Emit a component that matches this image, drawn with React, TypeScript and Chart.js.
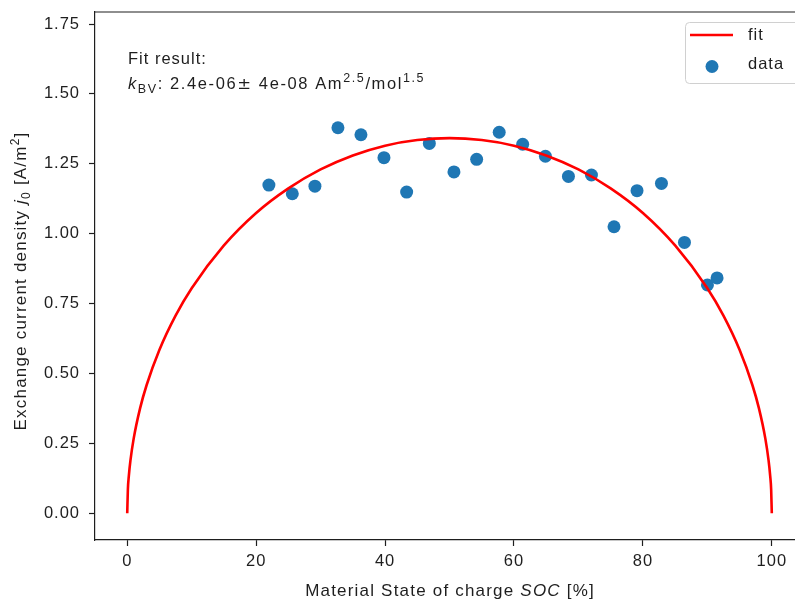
import { useEffect, useRef } from "react";
import { Chart, registerables } from "chart.js";

Chart.register(...registerables);

// measured data points
const socData = [21.98, 25.61, 29.12, 32.69, 36.26, 39.83, 43.35, 46.87, 50.69, 54.21, 57.71, 61.35, 64.88, 68.45, 72.02, 75.52, 79.09, 82.88, 86.45, 90.02, 91.51];
const j0Data = [1.174, 1.143, 1.170, 1.379, 1.354, 1.272, 1.149, 1.323, 1.221, 1.266, 1.363, 1.320, 1.277, 1.205, 1.210, 1.025, 1.154, 1.180, 0.969, 0.817, 0.842];

// fit curve
const fitSoc = [0, 0.1, 0.25, 0.5, 1, 2, 3, 5, 7.5, 10, 15, 20, 25, 30, 35, 40, 45, 50, 55, 60, 65, 70, 75, 80, 85, 90, 92.5, 95, 97, 98, 99, 99.5, 99.75, 99.9, 100];
const fitJ0 = [0, 0.085, 0.134, 0.189, 0.267, 0.376, 0.458, 0.585, 0.707, 0.805, 0.958, 1.074, 1.162, 1.230, 1.280, 1.315, 1.335, 1.342, 1.335, 1.315, 1.280, 1.230, 1.162, 1.074, 0.958, 0.805, 0.707, 0.585, 0.458, 0.376, 0.267, 0.189, 0.134, 0.085, 0];

const xTicks = [0, 20, 40, 60, 80, 100];
const yTicks = [0, 0.25, 0.5, 0.75, 1.0, 1.25, 1.5, 1.75];
const yTickLabels = ["0.00", "0.25", "0.50", "0.75", "1.00", "1.25", "1.50", "1.75"];

const legendLabels = ["fit", "data"];
const fitTitle = "Fit result:";

const FONT = "'Liberation Sans', Arial, Helvetica, sans-serif";
const FS = 16.5;
const TFS = 17;
const SMALL = 12;
const LS = "1px";
const TXT = "#1e1e1e";
const AREA_RIGHT = 795;

type Seg = { t: string; italic?: boolean; size?: number; dy?: number; family?: string };

function segFont(s: Seg, base: number) {
  return `${s.italic ? "italic " : ""}${s.size ?? base}px ${s.family ?? FONT}`;
}

function measureSegs(ctx: CanvasRenderingContext2D, segs: Seg[], base: number) {
  let w = 0;
  for (const s of segs) {
    ctx.font = segFont(s, base);
    w += ctx.measureText(s.t).width;
  }
  return w;
}

function drawSegs(ctx: CanvasRenderingContext2D, segs: Seg[], x: number, y: number, base: number) {
  let cx = x;
  for (const s of segs) {
    ctx.font = segFont(s, base);
    ctx.fillText(s.t, cx, y + (s.dy ?? 0));
    cx += ctx.measureText(s.t).width;
  }
}

const zeroPad = (s: any) => {
  s.paddingLeft = 0;
  s.paddingRight = 0;
  s.paddingTop = 0;
  s.paddingBottom = 0;
};

const decorPlugin = {
  id: "decor",
  beforeUpdate(chart: any) {
    (chart.ctx as any).letterSpacing = LS;
  },
  afterLayout(chart: any) {
    const xs = chart.scales.x;
    xs.right = AREA_RIGHT;
    xs.width = xs.right - xs.left;
    xs.configure();
    const a = chart.chartArea;
    a.right = AREA_RIGHT;
    a.width = a.right - a.left;
  },
  beforeDraw(chart: any) {
    (chart.ctx as any).letterSpacing = LS;
  },
  afterDraw(chart: any) {
    const ctx: CanvasRenderingContext2D = chart.ctx;
    const a = chart.chartArea;
    ctx.save();
    (ctx as any).letterSpacing = LS;
    // top spine
    ctx.strokeStyle = TXT;
    ctx.lineWidth = 1.2;
    ctx.beginPath();
    ctx.moveTo(a.left - 0.6, a.top);
    ctx.lineTo(a.right, a.top);
    ctx.stroke();

    ctx.fillStyle = TXT;
    ctx.textBaseline = "alphabetic";
    ctx.textAlign = "left";

    // annotation
    drawSegs(ctx, [{ t: fitTitle }], 128, 64, FS);
    (ctx as any).letterSpacing = "1.6px";
    drawSegs(
      ctx,
      [
        { t: "k", italic: true },
        { t: "BV", size: 12.5, dy: 4 },
        { t: ": 2.4e-06" },
        { t: "\u00b1", family: "'DejaVu Sans', sans-serif" },
        { t: " 4e-08 Am" },
        { t: "2.5", size: 12.5, dy: -7 },
        { t: "/mol" },
        { t: "1.5", size: 12.5, dy: -7 },
      ],
      128,
      89,
      FS
    );

    (ctx as any).letterSpacing = "1.2px";
    // x label
    const xl: Seg[] = [{ t: "Material State of charge " }, { t: "SOC", italic: true }, { t: " [%]" }];
    const xw = measureSegs(ctx, xl, TFS);
    drawSegs(ctx, xl, 450 - xw / 2, 596, TFS);

    // y label
    const yl: Seg[] = [
      { t: "Exchange current density " },
      { t: "j", italic: true },
      { t: "0", size: SMALL, dy: 4 },
      { t: " [A/m" },
      { t: "2", size: SMALL, dy: -7 },
      { t: "]" },
    ];
    const yw = measureSegs(ctx, yl, TFS);
    ctx.save();
    ctx.translate(26, 281);
    ctx.rotate(-Math.PI / 2);
    drawSegs(ctx, yl, -yw / 2, 0, TFS);
    ctx.restore();

    (ctx as any).letterSpacing = LS;
    // legend
    const lx = 685.5, ly = 22.5, lw = 125, lh = 61, r = 4;
    ctx.fillStyle = "rgba(255,255,255,0.8)";
    ctx.strokeStyle = "#d0d0d0";
    ctx.lineWidth = 1;
    ctx.beginPath();
    ctx.moveTo(lx + r, ly);
    ctx.lineTo(lx + lw - r, ly);
    ctx.arcTo(lx + lw, ly, lx + lw, ly + r, r);
    ctx.lineTo(lx + lw, ly + lh - r);
    ctx.arcTo(lx + lw, ly + lh, lx + lw - r, ly + lh, r);
    ctx.lineTo(lx + r, ly + lh);
    ctx.arcTo(lx, ly + lh, lx, ly + lh - r, r);
    ctx.lineTo(lx, ly + r);
    ctx.arcTo(lx, ly, lx + r, ly, r);
    ctx.closePath();
    ctx.fill();
    ctx.stroke();

    ctx.strokeStyle = "#ff0000";
    ctx.lineWidth = 2.6;
    ctx.beginPath();
    ctx.moveTo(690, 35);
    ctx.lineTo(733, 35);
    ctx.stroke();

    ctx.fillStyle = "#1f77b4";
    ctx.beginPath();
    ctx.arc(712, 66.5, 6.5, 0, Math.PI * 2);
    ctx.fill();

    ctx.fillStyle = TXT;
    ctx.textBaseline = "middle";
    ctx.font = `${FS}px ${FONT}`;
    ctx.fillText(legendLabels[0], 748, 35);
    ctx.fillText(legendLabels[1], 748, 64);

    ctx.restore();
  },
};

export default function App() {
  const ref = useRef<HTMLCanvasElement | null>(null);

  useEffect(() => {
    document.body.style.margin = "0";
    if (!ref.current) return;
    const chart = new Chart(ref.current, {
      type: "scatter",
      data: {
        datasets: [
          {
            type: "line",
            label: legendLabels[0],
            data: fitSoc.map((x, i) => ({ x, y: fitJ0[i] })),
            borderColor: "#ff0000",
            borderWidth: 2.6,
            pointRadius: 0,
            cubicInterpolationMode: "monotone",
            fill: false,
            order: 0,
          } as any,
          {
            type: "scatter",
            label: legendLabels[1],
            data: socData.map((x, i) => ({ x, y: j0Data[i] })),
            backgroundColor: "#1f77b4",
            borderWidth: 0,
            pointRadius: 6.5,
            order: 1,
          },
        ],
      },
      options: {
        animation: false,
        responsive: false,
        devicePixelRatio: 1,
        layout: { padding: { top: 12, left: 0, right: 0, bottom: 0 } },
        plugins: { legend: { display: false }, tooltip: { enabled: false } },
        scales: {
          x: {
            type: "linear",
            min: -5,
            max: 103.6,
            afterBuildTicks: (s: any) => {
              s.ticks = xTicks.map((v) => ({ value: v }));
            },
            afterFit: (s: any) => {
              s.height = 61;
              zeroPad(s);
            },
            grid: { drawOnChartArea: false, drawTicks: true, tickLength: 6, tickColor: TXT, tickWidth: 1.2 },
            border: { display: true, color: TXT, width: 1.2 },
            ticks: {
              color: TXT,
              font: { family: FONT, size: FS },
              padding: 6,
              maxRotation: 0,
              autoSkip: false,
              callback: (v: any) => String(v),
            },
          },
          y: {
            type: "linear",
            min: -0.0955,
            max: 1.793,
            afterBuildTicks: (s: any) => {
              s.ticks = yTicks.map((v) => ({ value: v }));
            },
            afterFit: (s: any) => {
              s.width = 95;
              zeroPad(s);
            },
            grid: { drawOnChartArea: false, drawTicks: true, tickLength: 6, tickColor: TXT, tickWidth: 1.2 },
            border: { display: true, color: TXT, width: 1.2 },
            ticks: {
              color: TXT,
              font: { family: FONT, size: FS },
              padding: 9,
              autoSkip: false,
              callback: (v: any) => {
                const i = yTicks.indexOf(Number(v));
                return i >= 0 ? yTickLabels[i] : "";
              },
            },
          },
        },
      },
      plugins: [decorPlugin],
    });
    return () => chart.destroy();
  }, []);

  return (
    <div style={{ width: 795, height: 601 }}>
      <canvas ref={ref} width={795} height={601} style={{ display: "block" }} />
    </div>
  );
}
